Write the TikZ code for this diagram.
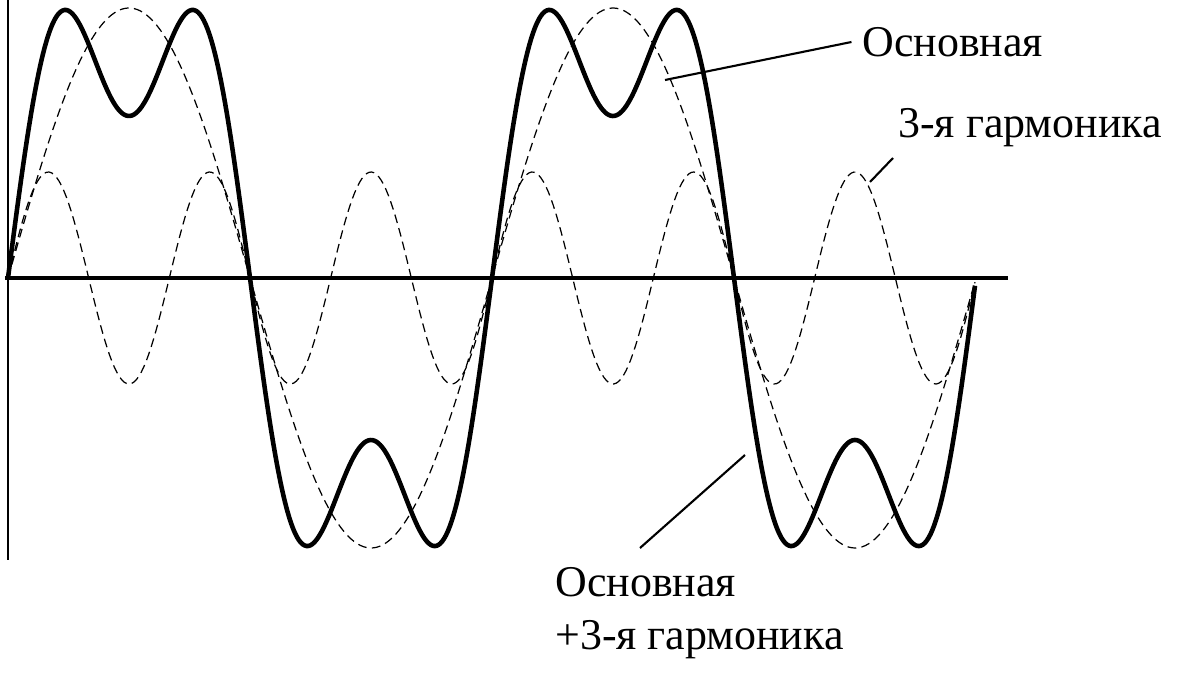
\documentclass[tikz,border=0pt]{standalone}
\usepackage{fontspec}
\setmainfont{Liberation Serif}
\begin{document}
\begin{tikzpicture}[x=0.02cm,y=-0.02cm,
  thin dash/.style={line width=0.7pt,dash pattern=on 5pt off 3pt},
  sumline/.style={line width=2.6pt,line join=round},
  lbl/.style={font=\fontsize{25}{30}\selectfont,inner sep=0pt,anchor=west},
  leader/.style={line width=1.2pt}]
\useasboundingbox (0,0) rectangle (1200,675);
\draw[line width=1.5pt] (8,0) -- (8,560);
\draw[line width=1.8pt] (5,278) -- (1008,278);
\draw[thin dash] plot[domain=8:975,samples=300] (\x,{278-270*sin((\x-8)/484*360)});
\draw[thin dash] plot[domain=8:975,samples=400] (\x,{278-106*sin(3*(\x-8)/484*360)});
\draw[sumline] plot[domain=8:975,samples=500] (\x,{278-270*(sin((\x-8)/484*360)+0.4*sin(3*(\x-8)/484*360))});
\node[lbl] (a) at (862,42) {Основная};
\node[lbl] (b) at (898,128) {3-я гармоника};
\node[lbl] (c) at (555,582) {Основная};
\node[lbl] (d) at (555,640) {+3-я гармоника};
\coordinate (pa) at (665,80);
\coordinate (pb) at (870,182);
\coordinate (pc) at (745,455);
\draw[leader] ([xshift=-6pt]a.west) -- (pa);
\draw[leader] (893,158) -- (pb);
\draw[leader] (640,548) -- (pc);
\end{tikzpicture}
\end{document}
